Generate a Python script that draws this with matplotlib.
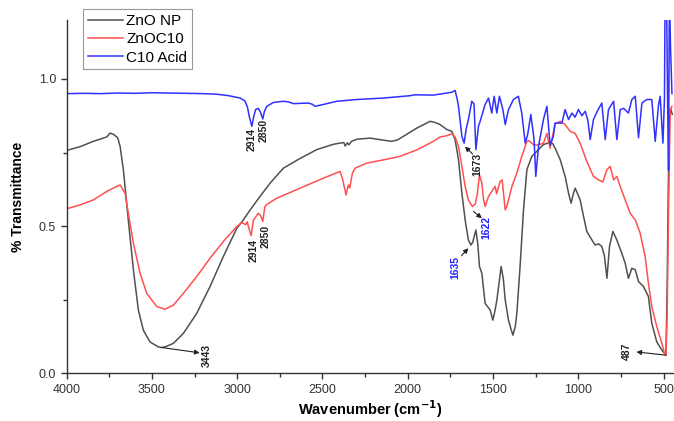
from matplotlib import pyplot as plt
from matplotlib.ticker import MultipleLocator

plt.rcParams["font.family"] = ["Liberation Sans", "DejaVu Sans"]

# ZnO NP
znonp_wn = [4000, 3920, 3843, 3790, 3764, 3745, 3725, 3700, 3686, 3667, 3638, 3608,
            3579, 3550, 3511, 3462, 3443, 3423, 3374, 3315, 3237, 3159, 3081, 3002,
            2964, 2924, 2866, 2807, 2729, 2631, 2533, 2474, 2436, 2397, 2375, 2367,
            2355, 2345, 2330, 2299, 2221, 2143, 2094, 2060, 2026, 1947, 1890, 1869,
            1840, 1811, 1771, 1742, 1723, 1703, 1683, 1664, 1645, 1630, 1620, 1601,
            1590, 1580, 1566, 1547, 1530, 1517, 1502, 1490, 1478, 1453, 1440, 1429,
            1410, 1395, 1384, 1370, 1361, 1342, 1322, 1302, 1273, 1244, 1205, 1166,
            1150, 1137, 1107, 1078, 1058, 1043, 1030, 1019, 1005, 990, 970, 951, 921,
            902, 882, 863, 848, 833, 818, 798, 775, 746, 726, 707, 687, 667, 648, 619,
            590, 570, 541, 511, 487, 480, 474, 468, 460, 450]
znonp_t = [0.757, 0.770, 0.788, 0.798, 0.803, 0.816, 0.812, 0.800, 0.771, 0.692, 0.521,
           0.351, 0.215, 0.147, 0.107, 0.090, 0.088, 0.090, 0.102, 0.136, 0.204, 0.295,
           0.397, 0.493, 0.521, 0.555, 0.601, 0.646, 0.697, 0.730, 0.760, 0.771, 0.778,
           0.782, 0.784, 0.772, 0.783, 0.776, 0.788, 0.795, 0.799, 0.792, 0.788, 0.793,
           0.805, 0.833, 0.850, 0.856, 0.852, 0.845, 0.828, 0.822, 0.794, 0.726, 0.612,
           0.521, 0.453, 0.436, 0.445, 0.487, 0.440, 0.363, 0.340, 0.238, 0.225, 0.215,
           0.181, 0.210, 0.249, 0.363, 0.320, 0.249, 0.181, 0.150, 0.130, 0.160, 0.204,
           0.363, 0.555, 0.692, 0.737, 0.754, 0.777, 0.785, 0.780, 0.765, 0.726, 0.669,
           0.612, 0.578, 0.610, 0.629, 0.610, 0.589, 0.533, 0.482, 0.453, 0.436, 0.440,
           0.431, 0.400, 0.323, 0.431, 0.482, 0.453, 0.408, 0.374, 0.323, 0.357, 0.352,
           0.312, 0.295, 0.261, 0.170, 0.107, 0.079, 0.062, 0.300, 0.600, 0.850, 0.900,
           0.880]

# ZnOC10
znoc10_wn = [4000, 3921, 3843, 3764, 3726, 3686, 3657, 3638, 3608, 3569, 3530, 3471,
             3423, 3374, 3315, 3237, 3159, 3081, 3002, 2973, 2950, 2940, 2935, 2918,
             2905, 2876, 2862, 2850, 2838, 2831, 2768, 2631, 2495, 2397, 2381, 2362,
             2348, 2340, 2325, 2309, 2240, 2143, 2045, 1947, 1850, 1811, 1771, 1742,
             1723, 1703, 1683, 1664, 1645, 1622, 1605, 1592, 1580, 1566, 1556, 1547,
             1527, 1508, 1488, 1480, 1459, 1447, 1429, 1418, 1390, 1361, 1332, 1302,
             1290, 1264, 1240, 1205, 1185, 1166, 1137, 1107, 1078, 1049, 1020, 990, 951,
             912, 882, 857, 833, 814, 794, 775, 755, 726, 697, 667, 638, 609, 590, 570,
             541, 511, 496, 487, 480, 472, 462, 452]
znoc10_t = [0.559, 0.572, 0.589, 0.618, 0.629, 0.640, 0.612, 0.544, 0.442, 0.340, 0.272,
            0.227, 0.218, 0.232, 0.272, 0.329, 0.391, 0.448, 0.499, 0.512, 0.505, 0.515,
            0.500, 0.468, 0.520, 0.544, 0.535, 0.516, 0.565, 0.572, 0.595, 0.629, 0.663,
            0.686, 0.657, 0.606, 0.640, 0.630, 0.680, 0.697, 0.714, 0.725, 0.737, 0.759,
            0.788, 0.803, 0.807, 0.814, 0.803, 0.771, 0.703, 0.635, 0.589, 0.567, 0.575,
            0.612, 0.674, 0.646, 0.590, 0.567, 0.601, 0.618, 0.635, 0.610, 0.652, 0.657,
            0.555, 0.570, 0.635, 0.680, 0.737, 0.788, 0.790, 0.777, 0.775, 0.782, 0.815,
            0.765, 0.847, 0.856, 0.845, 0.822, 0.815, 0.782, 0.720, 0.669, 0.657, 0.650,
            0.692, 0.703, 0.657, 0.669, 0.635, 0.589, 0.544, 0.521, 0.476, 0.397, 0.306,
            0.227, 0.159, 0.102, 0.068, 0.062, 0.200, 0.555, 0.896, 0.907]

# C10 Acid
c10_wn = [4000, 3900, 3800, 3700, 3600, 3500, 3400, 3300, 3200, 3120, 3050, 2983, 2955,
          2940, 2928, 2914, 2904, 2892, 2876, 2862, 2850, 2840, 2826, 2788, 2729, 2700,
          2670, 2583, 2560, 2543, 2504, 2416, 2299, 2143, 1986, 1960, 1850, 1771, 1740,
          1723, 1710, 1703, 1683, 1670, 1658, 1645, 1625, 1612, 1601, 1586, 1576, 1547,
          1527, 1508, 1494, 1478, 1463, 1443, 1429, 1410, 1381, 1352, 1332, 1312, 1298,
          1279, 1260, 1250, 1234, 1205, 1185, 1166, 1147, 1137, 1117, 1097, 1078, 1058,
          1038, 1020, 1000, 980, 960, 945, 931, 912, 890, 863, 843, 824, 794, 775, 755,
          735, 707, 687, 667, 648, 628, 600, 570, 550, 531, 521, 505, 496, 492, 484, 478,
          472, 467, 460, 452]
c10_t = [0.950, 0.951, 0.950, 0.952, 0.951, 0.953, 0.952, 0.951, 0.950, 0.948, 0.943,
         0.935, 0.925, 0.905, 0.870, 0.839, 0.870, 0.896, 0.900, 0.885, 0.864, 0.890,
         0.907, 0.920, 0.924, 0.922, 0.916, 0.918, 0.914, 0.907, 0.912, 0.924, 0.930,
         0.935, 0.943, 0.946, 0.945, 0.952, 0.955, 0.961, 0.930, 0.907, 0.805, 0.782,
         0.830, 0.862, 0.924, 0.915, 0.760, 0.839, 0.856, 0.913, 0.935, 0.884, 0.941,
         0.884, 0.941, 0.896, 0.845, 0.896, 0.930, 0.941, 0.884, 0.782, 0.810, 0.879,
         0.794, 0.669, 0.771, 0.862, 0.907, 0.775, 0.805, 0.850, 0.850, 0.850, 0.896,
         0.862, 0.884, 0.870, 0.896, 0.875, 0.890, 0.860, 0.794, 0.862, 0.890, 0.918,
         0.794, 0.896, 0.924, 0.794, 0.896, 0.900, 0.884, 0.930, 0.941, 0.800, 0.918,
         0.930, 0.930, 0.788, 0.910, 0.941, 0.782, 0.930, 1.300, 1.300, 0.950, 0.690,
         1.300, 1.100, 0.950]

fig = plt.figure(figsize=(6.74, 4.21), dpi=100)
ax = fig.add_axes([0.0987, 0.113, 0.9013, 0.8395])

ax.plot(znonp_wn, znonp_t, color="#505050", lw=1.1, label="ZnO NP")
ax.plot(znoc10_wn, znoc10_t, color="#ff5050", lw=1.1, label="ZnOC10")
ax.plot(c10_wn, c10_t, color="#3030ff", lw=1.1, label="C10 Acid")

ax.set_xlim(4000, 440)
ax.set_ylim(0, 1.2)
ax.xaxis.set_major_locator(MultipleLocator(500))
ax.xaxis.set_minor_locator(MultipleLocator(250))
ax.yaxis.set_major_locator(MultipleLocator(0.5))
ax.yaxis.set_minor_locator(MultipleLocator(0.25))
ax.tick_params(which="both", direction="out", labelsize=9, colors="#333333")
ax.tick_params(which="major", length=4, width=1)
ax.tick_params(which="minor", length=3, width=1)
for side in ["top", "right"]:
    ax.spines[side].set_visible(False)
for side in ["left", "bottom"]:
    ax.spines[side].set_color("#333333")
    ax.spines[side].set_linewidth(1.0)

ax.set_xlabel("Wavenumber (cm$^{\\mathbf{-1}}$)", fontsize=10.5, fontweight="bold", labelpad=2)
ax.set_ylabel("% Transmittance", fontsize=10, fontweight="bold", labelpad=10)

# peak labels
peak_labels = [
    ("3443", 3177, 0.062, "#222222"),
    ("2914", 2914, 0.794, "#222222"),
    ("2850", 2842, 0.824, "#222222"),
    ("2914", 2905, 0.419, "#222222"),
    ("2850", 2832, 0.464, "#222222"),
    ("1673", 1595, 0.708, "#222222"),
    ("1622", 1537, 0.494, "#2020ff"),
    ("1635", 1723, 0.360, "#2020ff"),
    ("487", 716, 0.076, "#222222"),
]
for txt, x, y, c in peak_labels:
    ax.text(x, y, txt, rotation=90, ha="center", va="center",
            fontsize=7.5, fontweight="bold", color=c)

arrows = [
    ((3443, 0.088), (3220, 0.070)),
    ((487, 0.062), (660, 0.073)),
    ((1620, 0.745), (1665, 0.770)),
    ((1615, 0.550), (1566, 0.527)),
    ((1685, 0.400), (1645, 0.425)),
]
for start, end in arrows:
    ax.annotate("", xy=end, xytext=start,
                arrowprops=dict(arrowstyle="-|>", color="#222222", lw=0.8,
                                mutation_scale=7, shrinkA=0, shrinkB=0))

leg = ax.legend(loc="upper left", bbox_to_anchor=(0.027, 1.03), borderaxespad=0,
                fontsize=11, handlelength=2.3, handletextpad=0.25, labelspacing=0.28,
                borderpad=0.3, fancybox=False, framealpha=1)
leg.get_frame().set_edgecolor("#999999")
leg.get_frame().set_linewidth(0.8)

fig.savefig("out.png", dpi=100)
